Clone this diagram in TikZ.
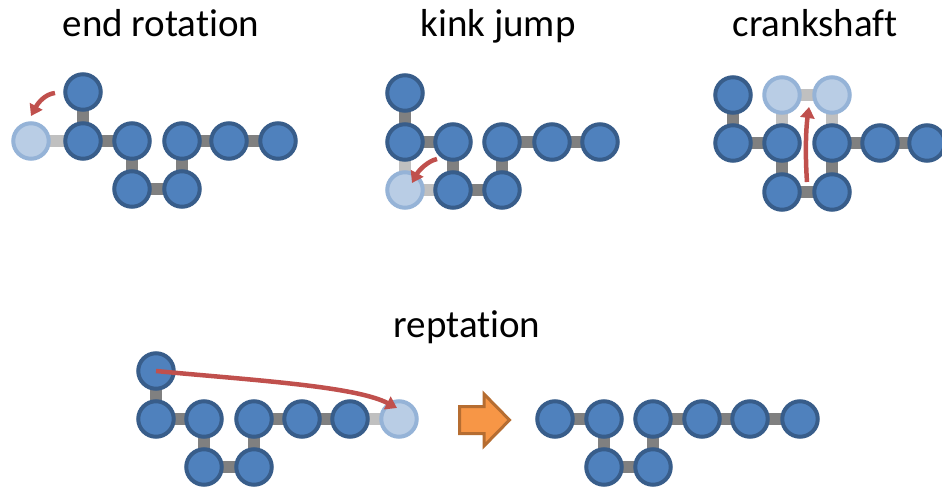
\documentclass[tikz,border=0pt]{standalone}
\usepackage{fontspec}
\setmainfont{Carlito}[Ligatures=NoCommon]
\usetikzlibrary{arrows.meta,backgrounds}
\definecolor{beadfill}{RGB}{79,129,189}
\definecolor{beadline}{RGB}{56,93,138}
\definecolor{ghostfill}{RGB}{185,205,229}
\definecolor{ghostline}{RGB}{149,179,215}
\definecolor{bondgray}{RGB}{128,128,128}
\definecolor{ghostgray}{RGB}{192,192,192}
\definecolor{movered}{RGB}{192,80,77}
\definecolor{pushfill}{RGB}{247,150,70}
\definecolor{pushline}{RGB}{182,109,49}

\begin{document}
\begin{tikzpicture}[x=1pt, y=1pt,
  bead/.style={circle, draw=beadline, fill=beadfill, line width=4pt, minimum size=35.5pt, inner sep=0pt},
  ghost/.style={bead, draw=ghostline, fill=ghostfill},
  bond/.style={draw=bondgray, line width=12pt},
  ghostbond/.style={draw=ghostgray, line width=12pt},
  move/.style={draw=movered, line width=4.5pt, -{Triangle[length=11pt,width=14pt]}},
  title/.style={anchor=base, inner sep=0pt, font=\fontsize{39}{47}\selectfont}]
\useasboundingbox (0,0) rectangle (942,488);

% titles
\node[title] (t1) at (161,451) {end rotation};
\node[title] (t2) at (498,451) {kink jump};
\node[title] (t3) at (815,451) {crankshaft};
\node[title] (t4) at (467,151) {reptation};

% end rotation
\node[bead] (erT) at (83,396) {};
\node[ghost] (erL) at (31,347) {};
\node[bead] (er1) at (83,347) {};
\node[bead] (er2) at (132,347) {};
\node[bead] (er3) at (132,299) {};
\node[bead] (er4) at (182,299) {};
\node[bead] (er5) at (182,347) {};
\node[bead] (er6) at (229,347) {};
\node[bead] (er7) at (278,347) {};
\begin{scope}[on background layer]
\draw[bond] (erT.center) -- (er1.center) -- (er2.center) -- (er3.center) -- (er4.center) -- (er5.center) -- (er6.center) -- (er7.center);
\draw[ghostbond] (erL.center) -- (er1.center);
\end{scope}
\coordinate (erA) at (55,395);
\coordinate (erB) at (31,372);
\draw[move] (erA) .. controls (45,394) and (38,385) .. (erB);

% kink jump
\node[bead] (kjT) at (405,395) {};
\node[bead] (kj1) at (405,346) {};
\node[bead] (kj2) at (453,346) {};
\node[bead] (kj3) at (453,298) {};
\node[bead] (kj4) at (502,298) {};
\node[bead] (kj5) at (502,346) {};
\node[bead] (kj6) at (552,346) {};
\node[bead] (kj7) at (600,346) {};
\node[ghost] (kjL) at (405,298) {};
\begin{scope}[on background layer]
\draw[bond] (kjT.center) -- (kj1.center) -- (kj2.center) -- (kj3.center) -- (kj4.center) -- (kj5.center) -- (kj6.center) -- (kj7.center);
\draw[ghostbond] (kj1.center) -- (kjL.center) -- (kj3.center);
\end{scope}
\coordinate (kjA) at (437,329);
\coordinate (kjB) at (412,305);
\draw[move] (kjA) .. controls (428,327) and (419,318) .. (kjB);

% crankshaft
\node[bead] (ckT) at (733,393) {};
\node[bead] (ck1) at (733,345) {};
\node[bead] (ck2) at (782,345) {};
\node[bead] (ck3) at (782,296) {};
\node[bead] (ck4) at (832,296) {};
\node[bead] (ck5) at (832,345) {};
\node[bead] (ck6) at (880,345) {};
\node[bead] (ck7) at (927,345) {};
\node[ghost] (ckL) at (782,393) {};
\node[ghost] (ckR) at (832,393) {};
\begin{scope}[on background layer]
\draw[bond] (ckT.center) -- (ck1.center) -- (ck2.center) -- (ck3.center) -- (ck4.center) -- (ck5.center) -- (ck6.center) -- (ck7.center);
\draw[ghostbond] (ck2.center) -- (ckL.center) -- (ckR.center) -- (ck5.center);
\end{scope}
\coordinate (ckA) at (807,306);
\coordinate (ckB) at (809,381);
\draw[move] (ckA) .. controls (805,335) and (806,360) .. (ckB);

% reptation, before
\node[bead] (rpT) at (156,117) {};
\node[bead] (rp1) at (156,69) {};
\node[bead] (rp2) at (204,69) {};
\node[bead] (rp3) at (204,21) {};
\node[bead] (rp4) at (254,21) {};
\node[bead] (rp5) at (254,69) {};
\node[bead] (rp6) at (302,69) {};
\node[bead] (rp7) at (350,69) {};
\node[ghost] (rpL) at (399,69) {};
\begin{scope}[on background layer]
\draw[bond] (rpT.center) -- (rp1.center) -- (rp2.center) -- (rp3.center) -- (rp4.center) -- (rp5.center) -- (rp6.center) -- (rp7.center);
\draw[ghostbond] (rp7.center) -- (rpL.center);
\end{scope}
\coordinate (rpB) at (397,80);
\draw[move] (rpT.center) .. controls (250,108) and (355,102) .. (rpB);

% big arrow
\draw[pushline, fill=pushfill, line width=3pt] (459.5,81.5) -- (484,81.5) -- (484,94) -- (509.5,68) -- (484,42) -- (484,54.5) -- (459.5,54.5) -- cycle;

% reptation, after
\node[bead] (rq1) at (555,69) {};
\node[bead] (rq2) at (604,69) {};
\node[bead] (rq3) at (604,21) {};
\node[bead] (rq4) at (653,21) {};
\node[bead] (rq5) at (653,69) {};
\node[bead] (rq6) at (702,69) {};
\node[bead] (rq7) at (750,69) {};
\node[bead] (rq8) at (800,69) {};
\begin{scope}[on background layer]
\draw[bond] (rq1.center) -- (rq2.center) -- (rq3.center) -- (rq4.center) -- (rq5.center) -- (rq6.center) -- (rq7.center) -- (rq8.center);
\end{scope}
\end{tikzpicture}
\end{document}
